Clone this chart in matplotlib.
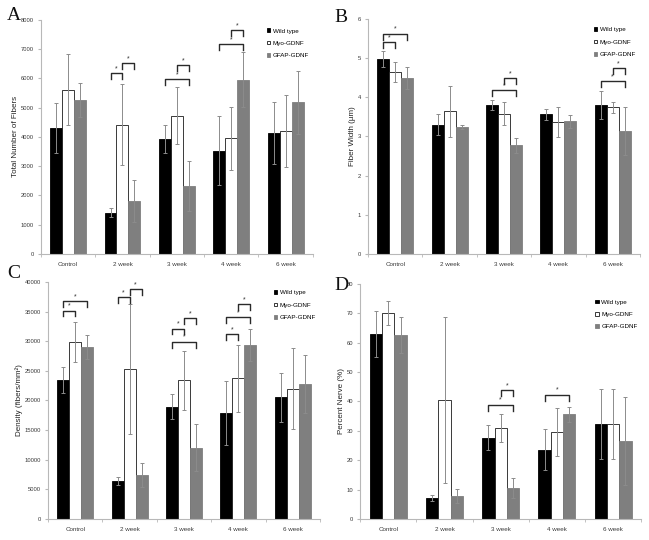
#!/usr/bin/env python3
"""Four-panel bar chart of nerve fiber measures for three genotypes over time."""

import numpy as np
import matplotlib

matplotlib.use("Agg")
from matplotlib import pyplot as plt

plt.rcParams["font.family"] = ["Liberation Sans", "DejaVu Sans"]


GROUPS = ["Control", "2 week", "3 week", "4 week", "6 week"]
SERIES = ["Wild type", "Myo-GDNF", "GFAP-GDNF"]

# Panel A: total number of fibers
FIBERS_MEAN = [
    [4300, 1400, 3930, 3520, 4130],
    [5620, 4420, 4730, 3950, 4200],
    [5270, 1810, 2330, 5950, 5180],
]
FIBERS_ERR = [
    [850, 150, 490, 1180, 1070],
    [1215, 1380, 985, 1085, 1240],
    [585, 725, 860, 940, 1085],
]
# (group, series a, series b, bracket height)
FIBERS_SIG = [
    (1, 0, 1, 6180), (1, 1, 2, 6520),
    (2, 0, 2, 5970), (2, 1, 2, 6450),
    (3, 0, 2, 7170), (3, 1, 2, 7660),
]

# Panel B: fiber width
WIDTH_MEAN = [
    [4.98, 3.30, 3.80, 3.56, 3.80],
    [4.65, 3.64, 3.58, 3.36, 3.74],
    [4.50, 3.23, 2.77, 3.38, 3.14],
]
WIDTH_ERR = [
    [0.20, 0.27, 0.12, 0.13, 0.35],
    [0.25, 0.65, 0.29, 0.38, 0.15],
    [0.28, 0.05, 0.20, 0.16, 0.62],
]
WIDTH_SIG = [
    (0, 0, 1, 5.41), (0, 0, 2, 5.62),
    (2, 0, 2, 4.18), (2, 1, 2, 4.48),
    (4, 0, 2, 4.41), (4, 1, 2, 4.75),
]

# Panel C: fiber density
DENSITY_MEAN = [
    [23400, 6400, 18900, 17800, 20500],
    [29900, 25300, 23400, 23700, 22000],
    [29000, 7400, 12000, 29300, 22700],
]
DENSITY_ERR = [
    [2200, 600, 2100, 5400, 4200],
    [3400, 11000, 5000, 5700, 6900],
    [2000, 2000, 3950, 2700, 4900],
]
DENSITY_SIG = [
    (0, 0, 1, 35170), (0, 0, 2, 36740),
    (1, 0, 1, 37470), (1, 1, 2, 38760),
    (2, 0, 1, 32130), (2, 1, 2, 33930), (2, 0, 2, 29890),
    (3, 0, 1, 31180), (3, 0, 2, 34100), (3, 1, 2, 36290),
]

# Panel D: percent nerve
NERVE_MEAN = [
    [63.0, 7.1, 27.7, 23.6, 32.3],
    [70.2, 40.5, 31.1, 29.6, 32.3],
    [62.7, 7.8, 10.5, 35.6, 26.6],
]
NERVE_ERR = [
    [7.7, 1.1, 4.2, 6.9, 11.8],
    [4.1, 28.2, 4.8, 8.1, 11.9],
    [6.2, 2.3, 3.5, 2.6, 15.0],
]
NERVE_SIG = [
    (2, 0, 2, 38.9), (2, 1, 2, 43.75),
    (3, 0, 2, 42.3),
]

FACE = ["#000000", "#ffffff", "#7f7f7f"]
EDGE = ["#000000", "#1a1a1a", "#7f7f7f"]
BAR_W = 0.22
AXIS_GREY = "#b8b8b8"
TEXT_GREY = "#3a3a3a"


def draw_panel(ax, means, errs, sig, ymax, ystep, ylabel, legend_top):
    x = np.arange(len(GROUPS))
    for k, name in enumerate(SERIES):
        ax.bar(
            x + (k - 1) * BAR_W,
            means[k],
            BAR_W,
            color=FACE[k],
            edgecolor=EDGE[k],
            linewidth=0.6,
            label=name,
            zorder=2,
        )
        ax.errorbar(
            x + (k - 1) * BAR_W,
            means[k],
            yerr=errs[k],
            fmt="none",
            ecolor="#8c8c8c",
            elinewidth=0.7,
            capsize=1.6,
            capthick=0.7,
            zorder=3,
        )
    drop = 0.025 * ymax
    for group, a, b, height in sig:
        xa = group + (a - 1) * BAR_W
        xb = group + (b - 1) * BAR_W
        ax.plot(
            [xa, xa, xb, xb],
            [height - drop, height, height, height - drop],
            color="#2a2a2a",
            linewidth=1.0,
            zorder=4,
        )
        ax.text(
            (xa + xb) / 2,
            height + 0.004 * ymax,
            "*",
            ha="center",
            va="bottom",
            fontsize=5,
            color="#333333",
        )

    ax.set_xlim(-0.5, len(GROUPS) - 0.5)
    ax.set_ylim(0, ymax)
    ax.set_xticks(x)
    ax.set_xticklabels(GROUPS)
    ax.set_xticks(np.arange(-0.5, len(GROUPS)), minor=True)
    ax.tick_params(axis="x", which="major", length=0, pad=6, labelsize=4.5, labelcolor=TEXT_GREY)
    ax.tick_params(axis="x", which="minor", length=2, color=AXIS_GREY, direction="out")
    yticks = np.arange(0, ymax + ystep / 2, ystep)
    ax.set_yticks(yticks)
    ax.set_yticklabels([f"{int(v)}" for v in yticks])
    ax.tick_params(axis="y", length=2, color=AXIS_GREY, labelsize=4.2, labelcolor=TEXT_GREY, pad=3)
    for side in ("top", "right"):
        ax.spines[side].set_visible(False)
    for side in ("left", "bottom"):
        ax.spines[side].set_color(AXIS_GREY)
        ax.spines[side].set_linewidth(0.8)
    ax.set_ylabel(ylabel, fontsize=5.8, color="#222222", labelpad=1.5)
    ax.legend(
        loc="upper right",
        bbox_to_anchor=(1.0, legend_top),
        frameon=False,
        fontsize=4.5,
        handlelength=0.55,
        handleheight=0.55,
        handletextpad=0.4,
        labelspacing=1.15,
        borderaxespad=0.2,
    )


figure = plt.figure(figsize=(6.49, 5.40), dpi=100)
figure.patch.set_facecolor("white")

ax_a = figure.add_axes([0.063, 0.530, 0.419, 0.433])
ax_b = figure.add_axes([0.567, 0.530, 0.419, 0.435])
ax_c = figure.add_axes([0.074, 0.039, 0.419, 0.439])
ax_d = figure.add_axes([0.555, 0.039, 0.433, 0.435])

draw_panel(ax_a, FIBERS_MEAN, FIBERS_ERR, FIBERS_SIG, 8000, 1000,
           "Total Number of Fibers", 0.98)
draw_panel(ax_b, WIDTH_MEAN, WIDTH_ERR, WIDTH_SIG, 6, 1,
           "Fiber Width (µm)", 0.98)
draw_panel(ax_c, DENSITY_MEAN, DENSITY_ERR, DENSITY_SIG, 40000, 5000,
           "Density (fibers/mm²)", 0.98)
draw_panel(ax_d, NERVE_MEAN, NERVE_ERR, NERVE_SIG, 80, 10,
           "Percent Nerve (%)", 0.95)

LETTER_POS = [(7, 16), (334, 17), (7, 274), (334, 286)]
for letter, (px, py) in zip("ABCD", LETTER_POS):
    figure.text(px / 649, 1 - py / 540, letter, fontsize=14,
                family=["Liberation Serif", "DejaVu Serif"], color="#111111",
                ha="left", va="center")

figure.savefig("out.png", dpi=100, facecolor="white")
